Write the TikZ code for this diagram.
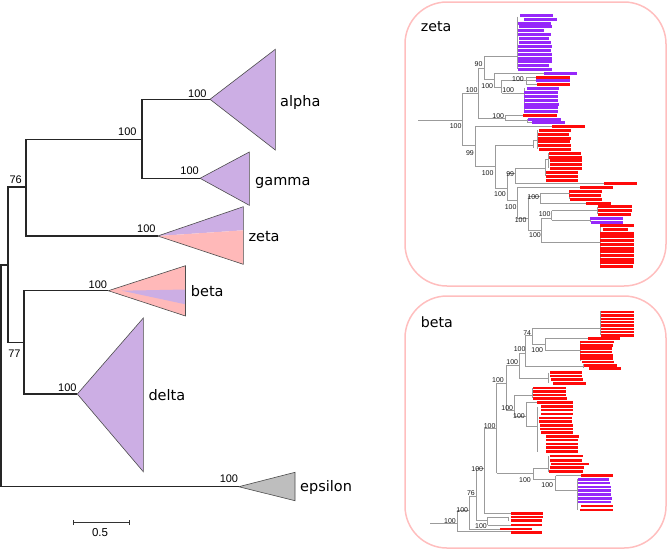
\documentclass[tikz,border=0pt]{standalone}
\usepackage{fontspec}
\setmainfont{DejaVu Sans}
\newfontfamily\numfont{Liberation Sans}
\definecolor{lav}{RGB}{204,174,228}
\definecolor{pinkf}{RGB}{255,185,185}
\definecolor{grayf}{RGB}{190,190,190}
\definecolor{barred}{RGB}{255,10,10}
\definecolor{barpur}{RGB}{150,40,250}
\definecolor{panelb}{RGB}{255,190,190}
\definecolor{tline}{RGB}{155,155,155}
\tikzset{
 branch/.style={line width=1.2pt, draw=black!85},
 tri/.style={draw=black!70, line width=0.6pt},
 clab/.style={font=\fontsize{14.5}{16}\selectfont, inner sep=0pt, anchor=base west},
 ptitle/.style={font=\fontsize{14.2}{16}\selectfont, inner sep=0pt, anchor=base west},
 blab/.style={font=\numfont\fontsize{11}{12}\selectfont, inner sep=0pt, anchor=base east},
 slab/.style={font=\numfont\fontsize{7}{8}\selectfont, inner sep=0pt, anchor=base east, text=black!90},
 pline/.style={draw=tline, line width=0.55pt},
 panel/.style={draw=panelb, line width=1.5pt, rounded corners=42pt},
 rbar/.style={fill=barred},
 pbar/.style={fill=barpur},
}
\begin{document}
\begin{tikzpicture}[x=1pt,y=-1pt]
\useasboundingbox (0,0) rectangle (668,550);
% ---------------- main tree ----------------
\coordinate (r0) at (1,265);
\coordinate (n1) at (8,265);
\coordinate (n76) at (26,187);
\coordinate (n77) at (24,342.3);
\coordinate (nA) at (142,139.3);
\coordinate (aA) at (210,99.3);
\coordinate (aG) at (200,178.3);
\coordinate (aZ) at (157.7,236);
\coordinate (aB) at (108.3,290.7);
\coordinate (aD) at (77.3,394);
\coordinate (aE) at (238.7,486.7);
% triangles
\filldraw[tri, fill=lav] (aA) -- (275.3,49.3) -- (275.3,150) -- cycle;
\filldraw[tri, fill=lav] (aG) -- (249.3,152) -- (249.3,205.3) -- cycle;
\fill[lav] (aZ) -- (243.3,206.7) -- (243.3,230.3) -- cycle;
\fill[pinkf] (aZ) -- (243.3,230.3) -- (243.3,264.3) -- cycle;
\draw[tri] (aZ) -- (243.3,206.7) -- (243.3,264.3) -- cycle;
\fill[pinkf] (aB) -- (185.5,265.7) -- (185.5,316) -- cycle;
\fill[lav] (122,290.7) -- (185.5,289.5) -- (185.5,304.3) -- cycle;
\draw[tri] (aB) -- (185.5,265.7) -- (185.5,316) -- cycle;
\filldraw[tri, fill=lav] (aD) -- (143.3,318) -- (143.3,471.7) -- cycle;
\filldraw[tri, fill=grayf] (aE) -- (295,472.3) -- (295,500.7) -- cycle;
% branches
\draw[branch] (n1) -- (r0) |- (aE);
\draw[branch] (aA) -| (nA) |- (aG);
\draw[branch] (nA) -| (n76) |- (aZ);
\draw[branch] (n76) -| (n1) |- (n77);
\draw[branch] (aB) -| (n77) |- (aD);
% support values
\node[blab] (sA) at (206.7,97.3) {100};
\node[blab] (sAG) at (136.7,135.3) {100};
\node[blab] (sG) at (199,174.7) {100};
\node[blab] (s76) at (22,183.3) {76};
\node[blab] (sZ) at (155.7,232) {100};
\node[blab] (sB) at (107.3,288.3) {100};
\node[blab] (s77) at (20.7,357.3) {77};
\node[blab] (sD) at (76.7,391) {100};
\node[blab] (sE) at (238.3,482.7) {100};
% clade labels
\node[clab] (lA) at (280,106) {alpha};
\node[clab] (lG) at (255,185.3) {gamma};
\node[clab] (lZ) at (248.3,241.7) {zeta};
\node[clab] (lB) at (190.7,296.7) {beta};
\node[clab] (lD) at (148.3,400.7) {delta};
\node[clab] (lE) at (300,491.7) {epsilon};
% scale bar
\coordinate (sb1) at (73.3,522.3);
\coordinate (sb2) at (129.3,522.3);
\draw[line width=1pt, black!80] (sb1) -- (sb2);
\draw[line width=1pt, black!80] ([yshift=-2.5pt]sb1) -- ([yshift=2.5pt]sb1);
\draw[line width=1pt, black!80] ([yshift=-2.5pt]sb2) -- ([yshift=2.5pt]sb2);
\node[font=\numfont\fontsize{11.5}{12}\selectfont, inner sep=0pt, anchor=base] (sbl) at (100,536) {0.5};
% ---------------- panels ----------------
\draw[panel] (405,2) rectangle (666,286);
\draw[panel] (405,296) rectangle (666,548);
\node[ptitle] (tZ) at (420.7,31.5) {zeta};
\node[ptitle] (tB) at (420.7,327.3) {beta};
% ---- zeta panel (units: 1/3 px, origin 400,0)
\begin{scope}[shift={(400,0)}, scale=1/3]
\draw[pline] (55,360) -- (188,360);
\draw[pline] (188,280) -- (188,437);
\draw[pline] (188,280) -- (235,280);
\draw[pline] (235,205) -- (235,355);
\draw[pline] (235,205) -- (253,205);
\draw[pline] (253,170) -- (253,238);
\draw[pline] (253,170) -- (352,170);
\draw[pline] (352,50) -- (352,206);
\draw[pline] (253,238) -- (283,238);
\draw[pline] (283,220) -- (283,262);
\draw[pline] (283,220) -- (432,220);
\draw[pline] (283,262) -- (305,262);
\draw[pline] (305,240) -- (305,280);
\draw[pline] (305,240) -- (378,240);
\draw[pline] (378,231) -- (378,254);
\draw[pline] (378,231) -- (408,231);
\draw[pline] (378,242) -- (408,242);
\draw[pline] (378,254) -- (410,254);
\draw[pline] (305,280) -- (372,280);
\draw[pline] (372,265) -- (372,335);
\draw[pline] (235,355) -- (315,355);
\draw[pline] (315,346) -- (315,362);
\draw[pline] (315,346) -- (370,346);
\draw[pline] (315,362) -- (383,362);
\draw[pline] (383,357) -- (383,368) -- (397,368);
\draw[pline] (188,437) -- (226,437);
\draw[pline] (226,380) -- (226,500);
\draw[pline] (226,380) -- (457,380);
\draw[pline] (226,500) -- (285,500);
\draw[pline] (285,435) -- (285,565);
\draw[pline] (285,435) -- (400,435);
\draw[pline] (400,420) -- (400,445);
\draw[pline] (400,420) -- (412,420);
\draw[pline] (412,391) -- (412,448);
\draw[pline] (285,565) -- (322,565);
\draw[pline] (322,520) -- (322,600);
\draw[pline] (322,520) -- (345,520);
\draw[pline] (345,505) -- (345,550);
\draw[pline] (345,505) -- (437,505);
\draw[pline] (437,478) -- (437,529);
\draw[pline] (437,478) -- (445,478);
\draw[pline] (445,460) -- (445,505);
\draw[pline] (345,550) -- (612,550);
\draw[pline] (322,600) -- (352,600);
\draw[pline] (352,562) -- (352,655);
\draw[pline] (352,562) -- (540,562);
\draw[pline] (352,655) -- (385,655);
\draw[pline] (385,590) -- (385,690);
\draw[pline] (385,590) -- (420,590);
\draw[pline] (420,580) -- (420,609);
\draw[pline] (420,580) -- (508,580);
\draw[pline] (508,574) -- (508,598);
\draw[pline] (420,609) -- (558,609);
\draw[pline] (385,690) -- (425,690);
\draw[pline] (425,655) -- (425,728);
\draw[pline] (425,655) -- (455,655);
\draw[pline] (455,632) -- (455,661);
\draw[pline] (455,632) -- (593,632);
\draw[pline] (593,620) -- (593,643);
\draw[pline] (455,661) -- (570,661);
\draw[pline] (570,655) -- (570,666);
\draw[pline] (425,728) -- (600,728);
\draw[pline] (600,677) -- (600,800);
% bars
\foreach \y/\a/\b in {47/360/460,57/372/470,70/355/452,80/357/455,92/355/432,103/355/452,115/357/448,127/357/452,139/353/455,150/353/453,162/353/455,174/353/455,185/353/455,196/353/448,208/353/455,219/432/532,242/408/510,265/380/478,277/373/473,289/373/475,300/373/475,312/373/477,323/373/475,335/373/475,357/383/483,368/397/495,655/570/670,666/572/670}
  \fill[pbar] (\a,\y-4.5) rectangle (\b,\y+4.5);
\foreach \y/\a/\b in {231/408/510,254/410/510,346/370/470,380/457/555,391/418/512,402/415/508,414/413/513,425/415/510,437/415/512,448/418/512,460/447/543,471/447/545,482/450/545,494/450/547,505/450/547,517/437/535,529/437/535,540/437/533,551/612/710,562/540/638,574/508/605,586/508/603,598/510/605,609/558/632,620/595/697,631/595/695,643/593/692,677/600/702,688/608/683,699/600/703,710/600/703,721/600/703,732/600/703,744/600/703,755/600/703,766/600/703,777/600/703,788/600/703,799/600/700}
  \fill[rbar] (\a,\y-4.5) rectangle (\b,\y+4.5);
% support values
\foreach \x/\y/\t [count=\k] in {185/385/100,233/277/100,248/200/90,280/265/100,372/245/100,343/277/100,313/355/100,222/465/99,281/525/100,343/528/99,318/590/100,350/627/100,380/667/100,418/597/100,452/650/100,423/712/100}
  \node[slab] (zs\k) at (\x,\y) {\t};
\end{scope}
% ---- beta panel (units: 1/3 px, origin 400,280)
\begin{scope}[shift={(400,280)}, scale=1/3]
\draw[pline] (90,730) -- (172,730);
\draw[pline] (172,690) -- (172,755);
\draw[pline] (172,690) -- (208,690);
\draw[pline] (172,755) -- (333,755);
\draw[pline] (208,648) -- (208,748);
\draw[pline] (208,648) -- (228,648);
\draw[pline] (208,748) -- (300,748);
\draw[pline] (228,565) -- (228,720);
\draw[pline] (228,565) -- (253,565);
\draw[pline] (228,720) -- (263,720);
\draw[pline] (263,712) -- (263,735);
\draw[pline] (263,712) -- (326,712);
\draw[pline] (326,710) -- (326,722);
\draw[pline] (263,735) -- (333,735);
\draw[pline] (253,445) -- (253,700);
\draw[pline] (253,445) -- (290,445);
\draw[pline] (253,700) -- (333,700);
\draw[pline] (290,310) -- (290,580);
\draw[pline] (290,310) -- (318,310);
\draw[pline] (290,580) -- (400,580);
\draw[pline] (318,255) -- (318,390);
\draw[pline] (318,255) -- (358,255);
\draw[pline] (318,390) -- (343,390);
\draw[pline] (358,220) -- (358,295);
\draw[pline] (358,220) -- (377,220);
\draw[pline] (358,295) -- (445,295);
\draw[pline] (445,278) -- (445,310);
\draw[pline] (377,165) -- (377,260);
\draw[pline] (377,165) -- (397,165);
\draw[pline] (377,260) -- (550,260);
\draw[pline] (550,253) -- (550,264);
\draw[pline] (397,145) -- (397,192);
\draw[pline] (397,145) -- (600,145);
\draw[pline] (600,94) -- (600,166);
\draw[pline] (397,192) -- (435,192);
\draw[pline] (435,175) -- (435,212);
\draw[pline] (435,175) -- (565,175);
\draw[pline] (435,212) -- (541,212);
\draw[pline] (541,186) -- (541,243);
\draw[pline] (343,345) -- (343,410);
\draw[pline] (343,345) -- (398,345);
\draw[pline] (398,324) -- (398,355);
\draw[pline] (343,410) -- (378,410);
\draw[pline] (378,368) -- (378,440);
\draw[pline] (378,368) -- (410,368);
\draw[pline] (378,440) -- (413,440);
\draw[pline] (413,380) -- (413,515);
\draw[pline] (400,565) -- (400,598);
\draw[pline] (400,565) -- (445,565);
\draw[pline] (445,528) -- (445,575);
\draw[pline] (400,598) -- (467,598);
\draw[pline] (467,587) -- (467,632);
\draw[pline] (467,587) -- (543,587);
\draw[pline] (467,632) -- (533,632);
\draw[pline] (533,598) -- (533,690);
% bars
\foreach \y in {96,106,...,166}
  \fill[rbar] (603,\y-3.5) rectangle (702,\y+3.5);
\foreach \y/\a/\b in {176/565/660,186/541/641,196/541/638,206/541/637,216/541/637,226/541/640,236/541/640,246/545/643,256/553/650,266/567/662,278/450/547,288/450/545,299/453/550,310/458/557,324/400/497,334/400/497,345/400/498,355/400/500,368/410/518,380/423/520,390/423/520,402/423/518,414/418/515,425/418/515,436/420/518,447/420/520,458/423/520,470/437/537,480/437/535,492/437/533,502/437/535,515/437/535,528/450/550,541/450/545,552/453/567,563/450/552,575/447/548,587/543/640,678/543/640,690/541/640,700/333/430,711/333/428,722/333/425,735/333/425,747/300/395,758/333/425}
  \fill[rbar] (\a,\y-3.7) rectangle (\b,\y+3.7);
\foreach \y/\a/\b in {598/533/628,609/533/630,621/535/632,632/535/633,643/535/633,655/535/635,666/535/633}
  \fill[pbar] (\a,\y-3.9) rectangle (\b,\y+3.9);
% support values
\foreach \x/\y/\t [count=\k] in {168/730/100,205/697/100,225/645/76,250/574/100,261/744/100,287/444/100,312/308/100,393/606/100,355/252/100,340/392/100,377/214/100,394/165/74,430/217/100,375/415/100,460/622/100}
  \node[slab] (bs\k) at (\x,\y) {\t};
\end{scope}
\end{tikzpicture}
\end{document}
